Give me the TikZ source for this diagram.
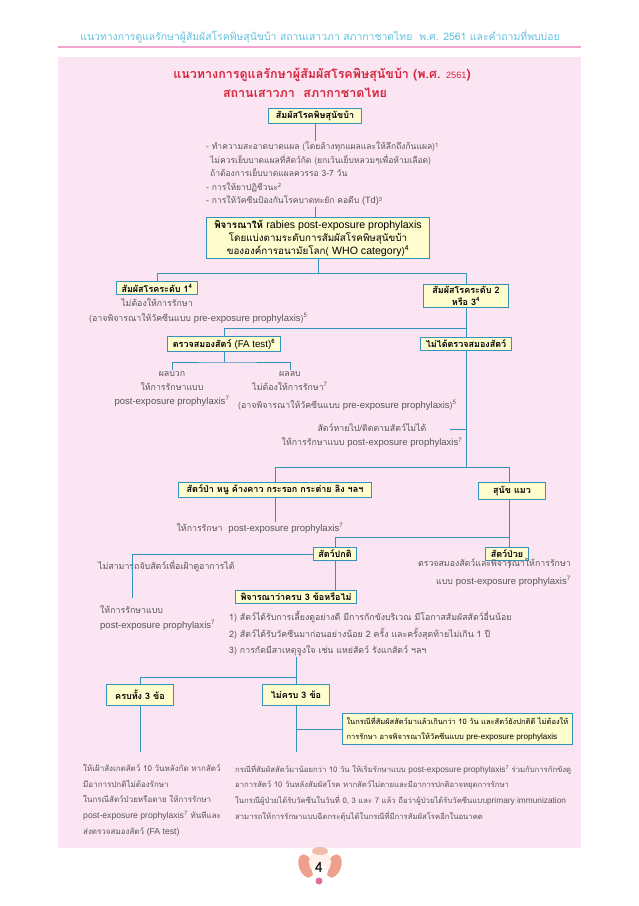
\documentclass[tikz,border=0pt]{standalone}
\usepackage{fontspec}
\setmainfont[Script=Thai]{Loma}
\newfontfamily\enfont{Liberation Sans}[Scale=1.08]
\newcommand{\en}[1]{{\enfont\mdseries #1}}
\usepackage{tikz}
\definecolor{linkblue}{RGB}{52,146,186}
\definecolor{boxfill}{RGB}{255,252,205}
\definecolor{panelpink}{RGB}{252,229,243}
\definecolor{titlered}{RGB}{214,36,60}
\definecolor{headcyan}{RGB}{100,192,222}
\definecolor{headpink}{RGB}{240,165,208}
\definecolor{bodygray}{RGB}{85,85,85}
\definecolor{earsalmon}{RGB}{238,160,140}
\definecolor{facecream}{RGB}{255,240,232}
\definecolor{tonguepink}{RGB}{222,110,160}

\begin{document}
\begin{tikzpicture}[x=1pt,y=-1pt,>=stealth,
  box/.style={draw=linkblue,line width=1.1pt,fill=boxfill,text=black,align=center,
    font=\bfseries\fontsize{9}{11.5}\selectfont,inner xsep=5pt,inner ysep=2.5pt},
  note/.style={text=bodygray,align=center,inner sep=1pt,font=\fontsize{8.8}{14}\selectfont},
  small/.style={text=bodygray,align=left,inner sep=0pt,font=\fontsize{8}{15.7}\selectfont},
  link/.style={draw=linkblue,line width=0.9pt}]
  \useasboundingbox (0,0) rectangle (638,906);
  \fill[white] (0,0) rectangle (638,906);
  \fill[panelpink] (58,57) rectangle (581,848);
  \draw[headpink,line width=1.2pt] (58,47) -- (581,47);
  \node[text=headcyan,font=\fontsize{10.4}{12}\selectfont] (head) at (320,37)
    {แนวทางการดูแลรักษาผู้สัมผัสโรคพิษสุนัขบ้า สถานเสาวภา สภากาชาดไทย\ \ พ.ศ. 2561 และคำถามที่พบบ่อย};
  \node[text=titlered,font=\bfseries\fontsize{12.5}{15}\selectfont] (title1) at (322,75)
    {แนวทางการดูแลรักษาผู้สัมผัสโรคพิษสุนัขบ้า (พ.ศ. {\enfont\mdseries\fontsize{8.5}{11}\selectfont 2561})};
  \node[text=titlered,font=\bfseries\fontsize{12.5}{15}\selectfont] (title2) at (305,93)
    {สถานเสาวภา\ \ สภากาชาดไทย};

  \node[box,inner xsep=7pt,inner ysep=3pt] (b0) at (315,116) {สัมผัสโรคพิษสุนัขบ้า};
  \node[note,align=left,anchor=north west,font=\fontsize{8.5}{13.5}\selectfont] (care) at (205,141)
    {- ทำความสะอาดบาดแผล (โดยล้างทุกแผลและให้ลึกถึงก้นแผล)\textsuperscript{1}\\
     \hspace*{4pt}ไม่ควรเย็บบาดแผลที่สัตว์กัด (ยกเว้นเย็บหลวมๆเพื่อห้ามเลือด)\\
     \hspace*{4pt}ถ้าต้องการเย็บบาดแผลควรรอ 3-7 วัน\\
     - การให้ยาปฏิชีวนะ\textsuperscript{2}\\
     - การให้วัคซีนป้องกันโรคบาดทะยัก คอตีบ \en{(Td)}\textsuperscript{3}};
  \node[box,font=\fontsize{9.8}{13}\selectfont,inner xsep=8pt,minimum height=41pt] (b1) at (318,238)
    {\textbf{พิจารณาให้} \en{rabies post-exposure prophylaxis}\\
     โดยแบ่งตามระดับการสัมผัสโรคพิษสุนัขบ้า\\
     ขององค์การอนามัยโลก( \en{WHO category})\textsuperscript{4}};

  \node[box] (b2) at (157,288) {สัมผัสโรคระดับ 1\textsuperscript{4}};
  \node[box,inner xsep=9pt] (b3) at (466,296) {สัมผัสโรคระดับ 2\\หรือ 3\textsuperscript{4}};
  \node[note] (n1a) at (157,303) {ไม่ต้องให้การรักษา};
  \node[note,anchor=west] (n1b) at (88,318) {(อาจพิจารณาให้วัคซีนแบบ \en{pre-exposure prophylaxis})\textsuperscript{5}};

  \node[box] (b4) at (224,344) {ตรวจสมองสัตว์ \en{(FA test)}\textsuperscript{6}};
  \node[box] (b5) at (466,344) {ไม่ได้ตรวจสมองสัตว์};
  \node[note,anchor=north] (n2) at (172,370) {ผลบวก\\ให้การรักษาแบบ\\\en{post-exposure prophylaxis}\textsuperscript{7}};
  \node[note,anchor=north] (n3) at (290,370) {ผลลบ\\ไม่ต้องให้การรักษา\textsuperscript{7}};
  \node[note,anchor=west] (n3b) at (237,405) {(อาจพิจารณาให้วัคซีนแบบ \en{pre-exposure prophylaxis})\textsuperscript{5}};
  \node[note] (n4) at (372,436) {สัตว์หายไป/ติดตามสัตว์ไม่ได้\\ให้การรักษาแบบ \en{post-exposure prophylaxis}\textsuperscript{7}};

  \node[box,inner xsep=8pt] (b6) at (275,490) {สัตว์ป่า หนู ค้างคาว กระรอก กระต่าย ลิง ฯลฯ};
  \node[box,inner xsep=15pt,inner ysep=4pt] (b7) at (512,491) {สุนัข แมว};
  \node[note] (n5) at (260,528) {ให้การรักษา\ \ \en{post-exposure prophylaxis}\textsuperscript{7}};
  \node[box] (b8) at (335,554) {สัตว์ปกติ};
  \node[box] (b9) at (507,554) {สัตว์ป่วย};
  \node[note,anchor=west] (n7) at (97,566) {ไม่สามารถจับสัตว์เพื่อเฝ้าดูอาการได้};
  \node[note,align=right,anchor=north east,font=\fontsize{8.8}{18}\selectfont] (n6) at (572,557)
    {ตรวจสมองสัตว์และพิจารณาให้การรักษา\\แบบ \en{post-exposure prophylaxis}\textsuperscript{7}};

  \node[box] (b10) at (296,597) {พิจารณาว่าครบ 3 ข้อหรือไม่};
  \node[note,align=left,anchor=north west,font=\fontsize{8.8}{15.5}\selectfont] (n8) at (99,604)
    {ให้การรักษาแบบ\\\en{post-exposure prophylaxis}\textsuperscript{7}};
  \node[note,align=left,anchor=north west,font=\fontsize{8.8}{16.5}\selectfont] (n9) at (228,610)
    {1) สัตว์ได้รับการเลี้ยงดูอย่างดี มีการกักขังบริเวณ มีโอกาสสัมผัสสัตว์อื่นน้อย\\
     2) สัตว์ได้รับวัคซีนมาก่อนอย่างน้อย 2 ครั้ง และครั้งสุดท้ายไม่เกิน 1 ปี\\
     3) การกัดมีสาเหตุจูงใจ เช่น แหย่สัตว์ รังแกสัตว์ ฯลฯ};

  \node[box,minimum height=21pt,inner xsep=9pt] (b11) at (140,695) {ครบทั้ง 3 ข้อ};
  \node[box,minimum height=21pt,inner xsep=8pt] (b12) at (296,695) {ไม่ครบ 3 ข้อ};
  \node[box,align=left,font=\fontsize{7.5}{15}\selectfont,inner xsep=4pt,inner ysep=3pt,anchor=west] (b13) at (342,729)
    {ในกรณีที่สัมผัสสัตว์มาแล้วเกินกว่า 10 วัน และสัตว์ยังปกติดี ไม่ต้องให้\\
     การรักษา อาจพิจารณาให้วัคซีนแบบ \en{pre-exposure prophylaxis}};
  \node[small,anchor=north west] (n10) at (83,764)
    {ให้เฝ้าสังเกตสัตว์ 10 วันหลังกัด หากสัตว์\\
     มีอาการปกติไม่ต้องรักษา\\
     ในกรณีสัตว์ป่วยหรือตาย ให้การรักษา\\
     \en{post-exposure prophylaxis}\textsuperscript{7} ทันทีและ\\
     ส่งตรวจสมองสัตว์ \en{(FA test)}};
  \node[small,anchor=north west,font=\fontsize{7.7}{15.7}\selectfont] (n11) at (235,764)
    {กรณีที่สัมผัสสัตว์มาน้อยกว่า 10 วัน ให้เริ่มรักษาแบบ \en{post-exposure prophylaxis}\textsuperscript{7} ร่วมกับการกักขังดู\\
     อาการสัตว์ 10 วันหลังสัมผัสโรค หากสัตว์ไม่ตายและมีอาการปกติอาจหยุดการรักษา\\
     ในกรณีผู้ป่วยได้รับวัคซีนในวันที่ 0, 3 และ 7 แล้ว ถือว่าผู้ป่วยได้รับวัคซีนแบบ\en{primary immunization}\\
     สามารถให้การรักษาแบบฉีดกระตุ้นได้ในกรณีที่มีการสัมผัสโรคอีกในอนาคต};

  \coordinate (s1) at (318,273);
  \coordinate (s2) at (466,328);
  \coordinate (s3) at (224,362);
  \coordinate (s4) at (466,467);
  \coordinate (tick) at (450,429);
  \coordinate (s5) at (509,537);
  \coordinate (b9end) at (509,568);
  \coordinate (s6) at (132,598);
  \coordinate (s7) at (296,677);
  \coordinate (s8) at (140,752);
  \coordinate (s9) at (296,752);
  \draw[link] (b0) -- (b0 |- care.north);
  \draw[link] (care.south -| b0) -- (b0 |- b1.north);
  \draw[link] (b1) -- (s1);
  \draw[link] (b2) -- (b2 |- s1) -- (b3 |- s1) -- (b3);
  \draw[link] (b3) -- (b5);
  \draw[link] (b4) -- (b4 |- s2) -- (s2);
  \draw[link] (b4) -- (s3);
  \draw[link] (n2.north) |- (s3) -| (n3.north);
  \draw[link] (b5) -- (s4);
  \draw[link] (tick) -- (b5 |- tick);
  \draw[link] (b6) -- (b6 |- s4) -- (s5 |- s4) -- (s5 |- b7.north);
  \draw[link] (b6) -- (b6 |- n5.north);
  \draw[link] (s5 |- b7.south) -- (s5 |- b9.north);
  \draw[link] (b8) -- (b8 |- s5) -- (s5);
  \draw[link] (s5 |- b9.south) -- (b9end);
  \draw[link] (b8) -| (s6);
  \draw[link] (b8) -- (b8 |- b10.north);
  \draw[link] (n9.south -| b10) -- (s7);
  \draw[link] (b11) -- (b11 |- s7) -- (s7) -- (b12);
  \draw[link] (b11) -- (s8);
  \draw[link] (b12) -- (s9);
  \draw[link] (b12 |- b13.west) -- (b13.west);

  \fill[earsalmon,rotate around={20:(306,866)}] (306,866) ellipse [x radius=7pt,y radius=12pt];
  \fill[earsalmon,rotate around={-20:(334,866)}] (334,866) ellipse [x radius=7pt,y radius=12pt];
  \fill[facecream] (320,862) ellipse [x radius=11pt,y radius=13pt];
  \fill[earsalmon!70] (320,851) ellipse [x radius=8pt,y radius=4pt];
  \fill[white] (320,871) ellipse [x radius=8pt,y radius=6pt];
  \fill[tonguepink] (319,881) circle [radius=3.5pt];
  \node[font=\fontsize{14}{16}\selectfont,text=black] (page) at (319,867) {4};
\end{tikzpicture}
\end{document}
